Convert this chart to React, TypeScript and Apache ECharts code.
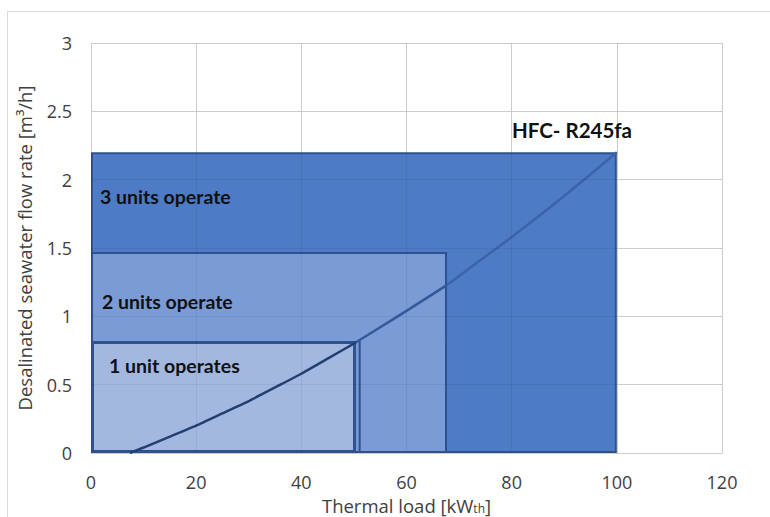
import React, { useEffect, useRef } from "react";
import * as echarts from "echarts";

// Operating regions (kW_th on x, m³/h on y)
const regionNames = ["3 units operate", "2 units operate", "2 units operate (lower)", "1 unit operates"];
const regionX0 = [0, 0, 50.9, 0];
const regionX1 = [100, 67.7, 67.7, 50.4];
const regionY0 = [0, 0, 0, 0];
const regionY1 = [2.2, 1.47, 0.83, 0.82];

// HFC-R245fa curve
const curveX = [7.4, 10, 15, 20, 25, 30, 35, 40, 45, 50.4, 55, 60, 67.7, 74, 80, 90, 100];
const curveY = [0, 0.04, 0.12, 0.2, 0.29, 0.38, 0.48, 0.58, 0.69, 0.81, 0.92, 1.04, 1.23, 1.41, 1.58, 1.88, 2.2];

const xMin = 0, xMax = 120, xStep = 20;
const yMin = 0, yMax = 3, yStep = 0.5;

const regionFill = ["#4E7BC5", "#7A9BD5", "#7A9BD5", "#A2B8E1"];
const regionStroke = ["#2F528F", "#2F528F", "#2F528F", "#2F528F"];
const regionWidth = [2, 2, 2, 3];
const regionOpenTop = [false, false, true, false];

export default function App() {
  const ref = useRef<HTMLDivElement>(null);
  useEffect(() => {
    if (!ref.current) return;
    const chart = echarts.init(ref.current, null, { renderer: "svg" });
    const regionData = regionNames.map((n, i) => [regionX0[i], regionY0[i], regionX1[i], regionY1[i]]);
    const curveData = curveX.map((x, i) => [x, curveY[i]]);
    const font = "Open Sans";
    const labelStyle = { fontFamily: "Lato", fontWeight: "bold", fontSize: 19.5, fill: "#111111", textVerticalAlign: "middle" };
    chart.setOption({
      animation: false,
      backgroundColor: "#ffffff",
      grid: { left: 91, right: 48, top: 43, bottom: 64, containLabel: false, outerBoundsMode: "none" },
      xAxis: [
        {
          type: "value", min: xMin, max: xMax, interval: xStep,
          name: "Thermal load [kW{sub|th}]",
          nameLocation: "middle", nameGap: 43, nameMoveOverlap: false,
          nameTextStyle: {
            fontFamily: font, fontSize: 18.5, color: "#404040", lineHeight: 19,
            rich: { sub: { fontFamily: font, fontSize: 12, color: "#404040", lineHeight: 12, padding: [5, 0, 0, 0] } },
          },
          axisLine: { show: true, lineStyle: { color: "#d9d9d9", width: 1 } },
          axisTick: { show: false },
          axisLabel: { fontFamily: font, fontSize: 18, color: "#404040", margin: 20, lineHeight: 18 },
          splitLine: { show: true, lineStyle: { color: "#d9d9d9", width: 1 } },
        },
        {
          type: "value", min: xMin, max: xMax, interval: xStep, position: "bottom", z: 10,
          axisLine: { show: false }, axisTick: { show: false }, axisLabel: { show: false },
          splitLine: { show: true, lineStyle: { color: "rgba(0,0,0,0.06)", width: 1 } },
        },
      ],
      yAxis: [
        {
          type: "value", min: yMin, max: yMax, interval: yStep,
          name: "Desalinated seawater flow rate [m³/h]",
          nameLocation: "middle", nameGap: 57, nameMoveOverlap: false,
          nameTextStyle: { fontFamily: font, fontSize: 18.5, color: "#404040" },
          axisLine: { show: false }, axisTick: { show: false },
          axisLabel: { fontFamily: font, fontSize: 18, color: "#404040", margin: 19 },
          splitLine: { show: true, lineStyle: { color: "#d9d9d9", width: 1 } },
        },
        {
          type: "value", min: yMin, max: yMax, interval: yStep, z: 10,
          axisLine: { show: false }, axisTick: { show: false }, axisLabel: { show: false },
          splitLine: { show: true, lineStyle: { color: "rgba(0,0,0,0.06)", width: 1 } },
        },
      ],
      visualMap: {
        show: false, type: "piecewise", seriesIndex: 1, dimension: 0,
        pieces: [
          { lt: 50.4, color: "#22406F" },
          { gte: 50.4, lt: 67.7, color: "#34599A" },
          { gte: 67.7, color: "#3B63AA" },
        ],
      },
      series: [
        {
          type: "custom",
          xAxisIndex: 0, yAxisIndex: 0,
          data: regionData,
          encode: { x: [0, 2], y: [1, 3] },
          renderItem: (params: any, api: any) => {
            const i = params.dataIndex;
            const p0 = api.coord([api.value(0), api.value(1)]);
            const p1 = api.coord([api.value(2), api.value(3)]);
            const w = regionWidth[i];
            const x0 = p0[0] + w / 2, x1 = p1[0] - w / 2;
            const yT = p1[1] + w / 2, yB = p0[1] - w / 2;
            if (regionOpenTop[i]) {
              return {
                type: "group",
                children: [
                  { type: "rect", shape: { x: x0, y: p1[1], width: x1 - x0, height: yB - p1[1] }, style: { fill: regionFill[i] } },
                  { type: "polyline", shape: { points: [[x0, p1[1]], [x0, yB], [x1, yB], [x1, p1[1]]] }, style: { fill: "none", stroke: regionStroke[i], lineWidth: w } },
                ],
              };
            }
            return {
              type: "rect",
              shape: { x: x0, y: yT, width: x1 - x0, height: yB - yT },
              style: { fill: regionFill[i], stroke: regionStroke[i], lineWidth: w },
            };
          },
        },
        {
          type: "line",
          xAxisIndex: 0, yAxisIndex: 0,
          data: curveData,
          smooth: 0.15,
          showSymbol: false,
          lineStyle: { width: 2.5 },
          z: 3,
        },
      ],
      graphic: [
        {
          type: "rect", z: -10, silent: true,
          shape: { x: 7.5, y: 11.5, width: 900, height: 700 },
          style: { fill: "none", stroke: "#d9d9d9", lineWidth: 1 },
        },
        { type: "text", z: 100, x: 100, y: 196, style: { text: "3 units operate", ...labelStyle } },
        { type: "text", z: 100, x: 102, y: 301, style: { text: "2 units operate", ...labelStyle } },
        { type: "text", z: 100, x: 109, y: 365, style: { text: "1 unit operates", ...labelStyle } },
        { type: "text", z: 100, x: 512, y: 130, style: { text: "HFC- R245fa", ...labelStyle, fontSize: 20.5 } },
      ],
    });
    return () => chart.dispose();
  }, []);
  return <div ref={ref} style={{ position: "fixed", left: 0, top: 0, width: 770, height: 517 }} />;
}
